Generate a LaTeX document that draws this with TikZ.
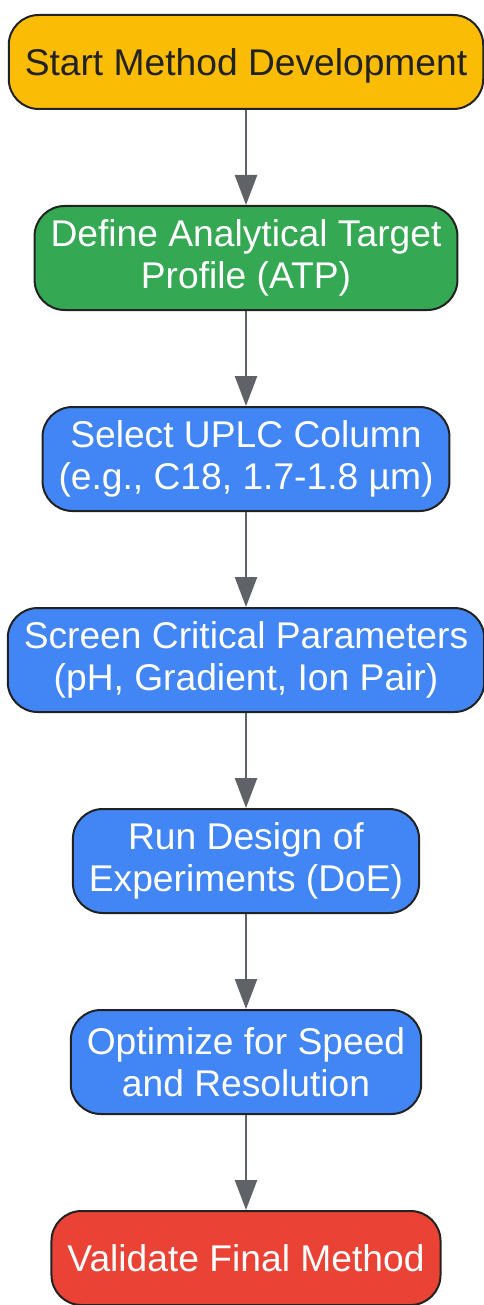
\documentclass[tikz,border=0pt]{standalone}
\usepackage{fontspec}
\setmainfont{Liberation Sans}
\usepackage{tikz}
\usetikzlibrary{positioning,arrows.meta}

\definecolor{startyellow}{HTML}{FBBC05}
\definecolor{atpgreen}{HTML}{34A853}
\definecolor{stepblue}{HTML}{4285F4}
\definecolor{endred}{HTML}{EA4335}
\definecolor{edgegray}{HTML}{222222}
\definecolor{arrowgray}{HTML}{5F6368}

\begin{document}
\begin{tikzpicture}[x=1pt, y=1pt,
	stagebox/.style={draw=edgegray, line width=2pt, rounded corners=30pt,
		inner xsep=16pt, align=center, text=white,
		font=\fontsize{37.2}{42}\selectfont},
	oneline/.style={stagebox, minimum height=94pt, text depth=0pt},
	twoline/.style={stagebox, minimum height=104pt},
	flow/.style={draw=arrowgray, line width=2.5pt,
		-{Triangle[width=22pt,length=30pt]}},
	node distance=95pt]

%frame
\useasboundingbox (0, 0) rectangle (483, -1305);

%stages
\node[oneline, fill=startyellow, text=edgegray] (start) at (246, -62) {Start Method Development};
\node[twoline, fill=atpgreen, below=of start] (atp) {Define Analytical Target\\Profile (ATP)};
\node[twoline, fill=stepblue, below=of atp] (column) {Select UPLC Column\\(e.g., C18, 1.7-1.8 µm)};
\node[twoline, fill=stepblue, below=of column] (screen) {Screen Critical Parameters\\(pH, Gradient, Ion Pair)};
\node[twoline, fill=stepblue, below=of screen] (doe) {Run Design of\\Experiments (DoE)};
\node[twoline, fill=stepblue, below=of doe] (optimize) {Optimize for Speed\\and Resolution};
\node[oneline, fill=endred, below=of optimize] (validate) {Validate Final Method};

%arrows
\foreach \a/\b in {start/atp, atp/column, column/screen, screen/doe, doe/optimize, optimize/validate}
	\draw[flow] (\a) -- (\b);

\end{tikzpicture}
\end{document}
